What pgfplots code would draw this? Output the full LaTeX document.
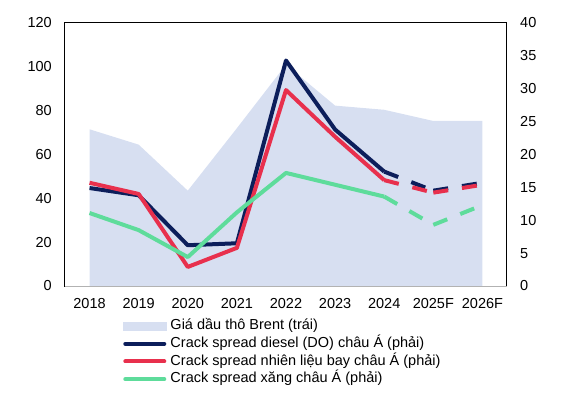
\documentclass[border=0pt]{standalone}
\usepackage{fontspec}
\setmainfont{Liberation Sans}
\usepackage{pgfplots}
\pgfplotsset{compat=1.18}
\definecolor{brentc}{HTML}{D7DFF1}
\definecolor{dieselc}{HTML}{0C1E5B}
\definecolor{jetc}{HTML}{E8304D}
\definecolor{gasc}{HTML}{5EDC9B}
\pgfplotsset{
  lineleg/.style={legend image code/.code={\draw[##1,line cap=round] (2pt,0pt)--(41pt,0pt);}},
  arealeg/.style={legend image code/.code={\fill[brentc] (0pt,-4pt) rectangle (43pt,4pt);}},
  common/.style={
    at={(0pt,0pt)}, anchor=south west,
    scale only axis, width=442pt, height=263pt,
    xmin=-0.5, xmax=8.5,
    major tick length=0pt,
    /pgf/number format/assume math mode=true,
    tick label style={font=\fontsize{14.5pt}{17pt}\selectfont},
    axis line style={line width=1pt},
  },
  solidser/.style={line width=4pt, line join=round, no markers, lineleg},
  dashseg/.style={line width=4pt, dash pattern=on 15pt off 14pt, no markers, forget plot},
}
\begin{document}
\fontsize{14.5pt}{17pt}\selectfont
\begin{tikzpicture}
\path[use as bounding box] (-65pt,-108pt) rectangle (500pt,286pt);
\begin{axis}[common,
  ymin=0, ymax=120, ytick={0,20,...,120},
  xtick={0,...,8}, xticklabels={2018,2019,2020,2021,2022,2023,2024,2025F,2026F},
  ytick pos=left, xtick pos=bottom,
  yticklabel style={anchor=east, inner sep=0pt, xshift=-13pt},
  xticklabel style={anchor=north, inner sep=0pt, yshift=-12pt},
]
\addplot[fill=brentc, draw=none] coordinates {
(0,71.5) (1,64.5) (2,43.5) (3,72) (4,101) (5,82.3) (6,80.4) (7,75.3) (8,75.3)
} \closedcycle;
\end{axis}
\begin{axis}[common,
  ymin=0, ymax=40, ytick={0,5,...,40},
  axis y line*=right, hide x axis,
  yticklabel style={anchor=west, inner sep=0pt, xshift=13pt},
  legend style={at={(0.131,-0.126)}, anchor=north west, draw=none, fill=none,
    inner sep=0pt, row sep=4.2pt, column sep=4pt,
    font=\fontsize{14.5pt}{17pt}\selectfont,
    nodes={inner sep=0pt, text height=10.5pt, text depth=3pt}},
  legend cell align=left,
]
\draw[line width=1pt, color=black!30] (rel axis cs:0,0) -- (rel axis cs:1,0);
\addlegendimage{arealeg}
\addlegendentry{Giá dầu thô Brent (trái)}
% diesel
\addplot[dieselc, solidser]
  coordinates {(0,14.9) (1,13.8) (2,6.2) (3,6.5) (4,34.3) (5,23.8) (6,17.4)};
\addlegendentry{Crack spread diesel (DO) châu Á (phải)}
\addplot[dieselc, dashseg] coordinates {(6,17.4) (7,14.5)};
\addplot[dieselc, dashseg] coordinates {(7,14.5) (8,15.7)};
% jet
\addplot[jetc, solidser]
  coordinates {(0,15.7) (1,14.0) (2,2.9) (3,5.8) (4,29.8) (5,22.7) (6,16.1)};
\addlegendentry{Crack spread nhiên liệu bay châu Á (phải)}
\addplot[jetc, dashseg] coordinates {(6,16.1) (7,14.2)};
\addplot[jetc, dashseg] coordinates {(7,14.2) (8,15.4)};
% gasoline
\addplot[gasc, solidser]
  coordinates {(0,11.1) (1,8.5) (2,4.4) (3,11.2) (4,17.2) (5,15.4) (6,13.6)};
\addlegendentry{Crack spread xăng châu Á (phải)}
\addplot[gasc, dashseg] coordinates {(6,13.6) (7,9.3)};
\addplot[gasc, dashseg] coordinates {(7,9.3) (8,12.3)};
\end{axis}
\end{tikzpicture}
\end{document}
